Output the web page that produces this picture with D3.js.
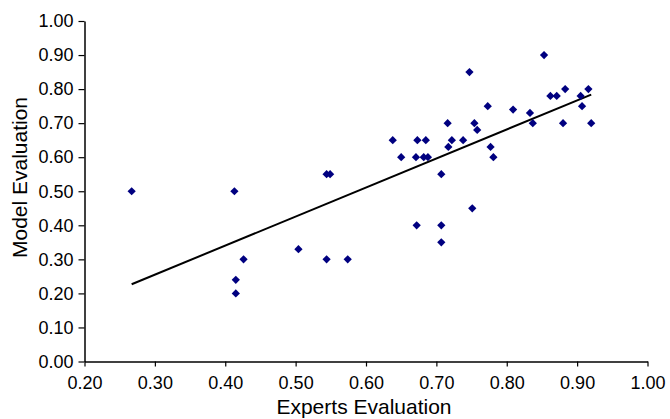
<!DOCTYPE html>
<html>
<head>
<meta charset="utf-8">
<script src="https://cdn.jsdelivr.net/npm/d3@7"></script>
<style>
  html, body { margin: 0; padding: 0; background: #fff; }
  svg text { font-family: Arial, "Liberation Sans", sans-serif; fill: #000; }
</style>
</head>
<body>
<svg id="chart" width="670" height="419"></svg>
<script>
// Experts evaluation (x) and model evaluation (y) for each case
const experts = [
  0.267, 0.413, 0.415, 0.415, 0.426, 0.504, 0.544, 0.549, 0.544, 0.574,
  0.638, 0.650, 0.671, 0.673, 0.672, 0.682, 0.688, 0.685, 0.707, 0.707,
  0.707, 0.716, 0.717, 0.722, 0.738, 0.747, 0.751, 0.754, 0.758, 0.773,
  0.777, 0.781, 0.809, 0.833, 0.837, 0.853, 0.862, 0.871, 0.880, 0.883,
  0.905, 0.907, 0.916, 0.920
];
const model = [
  0.50, 0.50, 0.24, 0.20, 0.30, 0.33, 0.55, 0.55, 0.30, 0.30,
  0.65, 0.60, 0.60, 0.65, 0.40, 0.60, 0.60, 0.65, 0.55, 0.40,
  0.35, 0.70, 0.63, 0.65, 0.65, 0.85, 0.45, 0.70, 0.68, 0.75,
  0.63, 0.60, 0.74, 0.73, 0.70, 0.90, 0.78, 0.78, 0.70, 0.80,
  0.78, 0.75, 0.80, 0.70
];
const xTicks = [0.2, 0.3, 0.4, 0.5, 0.6, 0.7, 0.8, 0.9, 1.0];
const yTicks = [0, 0.1, 0.2, 0.3, 0.4, 0.5, 0.6, 0.7, 0.8, 0.9, 1.0];

const svg = d3.select('#chart');

const plot = { left: 84.5, right: 647.5, top: 21, bottom: 361.5 };

const xScale = d3.scaleLinear().domain([0.2, 1.0]).range([plot.left, plot.right]);
const yScale = d3.scaleLinear().domain([0, 1.0]).range([plot.bottom, plot.top]);

const fmt = d3.format('.2f');

// Axes
const xAxis = svg.append('g')
  .attr('transform', `translate(0, ${plot.bottom})`)
  .call(d3.axisBottom(xScale).tickValues(xTicks).tickFormat(fmt)
    .tickSize(5).tickSizeOuter(0).tickPadding(10));

const yAxis = svg.append('g')
  .attr('transform', `translate(${plot.left}, 0)`)
  .call(d3.axisLeft(yScale).tickValues(yTicks).tickFormat(fmt)
    .tickSize(6).tickSizeOuter(0).tickPadding(5));

[xAxis, yAxis].forEach(g => {
  g.select('.domain').attr('stroke', '#000').attr('stroke-width', 1.5);
  g.selectAll('.tick line').attr('stroke', '#000').attr('stroke-width', 1.2);
  g.selectAll('.tick text')
    .style('font-family', 'Arial, "Liberation Sans", sans-serif')
    .style('font-size', '18px')
    .attr('fill', '#000');
});

// Linear regression of model on experts
const points = experts.map((x, i) => ({ x, y: model[i] }));
const meanX = d3.mean(points, d => d.x);
const meanY = d3.mean(points, d => d.y);
const slope = d3.sum(points, d => (d.x - meanX) * (d.y - meanY)) /
  d3.sum(points, d => (d.x - meanX) ** 2);
const intercept = meanY - slope * meanX;
const xExtent = d3.extent(experts);

svg.append('line')
  .attr('x1', xScale(xExtent[0]))
  .attr('y1', yScale(intercept + slope * xExtent[0]))
  .attr('x2', xScale(xExtent[1]))
  .attr('y2', yScale(intercept + slope * xExtent[1]))
  .attr('stroke', '#000')
  .attr('stroke-width', 2);

// Diamond markers
const diamond = d3.symbol().type(d3.symbolSquare).size(34);

svg.append('g')
  .selectAll('path.point')
  .data(points)
  .join('path')
  .attr('class', 'point')
  .attr('d', diamond)
  .attr('transform', d => `translate(${xScale(d.x)}, ${yScale(d.y)}) rotate(45)`)
  .attr('fill', '#000080');

// Axis titles
svg.append('text')
  .attr('x', 364)
  .attr('y', 414)
  .attr('text-anchor', 'middle')
  .style('font-size', '21px')
  .text('Experts Evaluation');

svg.append('text')
  .attr('transform', 'translate(27, 177.5) rotate(-90)')
  .attr('text-anchor', 'middle')
  .style('font-size', '21px')
  .text('Model Evaluation');
</script>
</body>
</html>
